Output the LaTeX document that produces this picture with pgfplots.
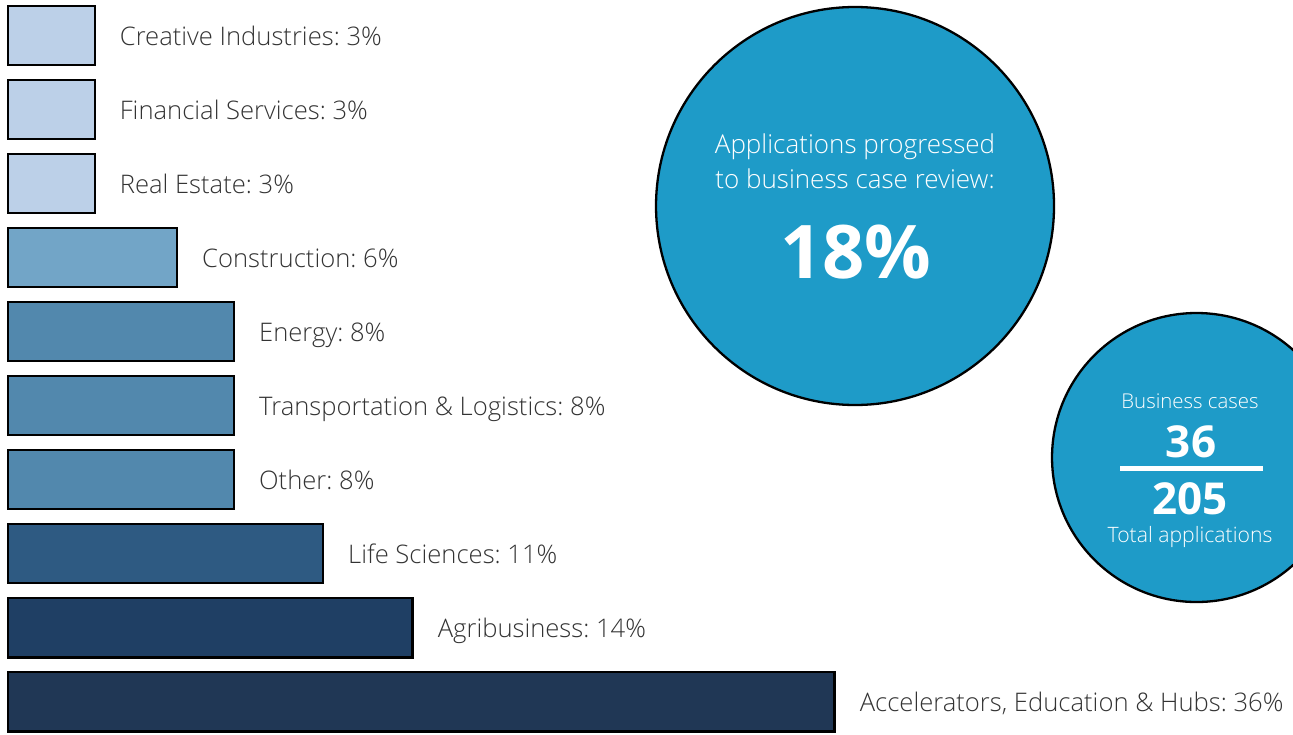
\documentclass[border=0pt]{standalone}
\usepackage{pgfplots}
\pgfplotsset{compat=1.18}
\usepackage{fontspec}
\setmainfont{Open Sans}[UprightFont=* Light, BoldFont=* Bold]
\frenchspacing
\definecolor{cLight}{HTML}{BCD0E8}
\definecolor{cCons}{HTML}{72A5C7}
\definecolor{cMid}{HTML}{5288AD}
\definecolor{cLife}{HTML}{2E5A82}
\definecolor{cAgri}{HTML}{1F3F64}
\definecolor{cAcc}{HTML}{203755}
\definecolor{circ}{HTML}{1E9BC8}
\definecolor{txt}{HTML}{333333}
\begin{document}
\begin{tikzpicture}
\begin{axis}[
  width=1293pt, height=734pt, scale only axis,
  xmin=-0.277, xmax=44.46,
  ymin=-0.482, ymax=9.436, y dir=reverse,
  axis lines=none, ticks=none,
  xbar, bar width=0.8, bar shift=0pt,
  clip=false,
  every node near coord/.append style={anchor=base west, inner sep=0pt, xshift=24pt, yshift=-9.5pt, font=\fontsize{25.6}{30}\selectfont, text=txt},
  every axis plot/.append style={draw=black, line width=2.3pt},
]
\addplot[fill=cLight, nodes near coords={Creative Industries: 3\%}] coordinates {(3,0)};
\addplot[fill=cLight, nodes near coords={Financial Services: 3\%}] coordinates {(3,1)};
\addplot[fill=cLight, nodes near coords={Real Estate: 3\%}] coordinates {(3,2)};
\addplot[fill=cCons, nodes near coords={Construction: 6\%}] coordinates {(5.85,3)};
\addplot[fill=cMid, nodes near coords={Energy: 8\%}] coordinates {(7.82,4)};
\addplot[fill=cMid, nodes near coords={Transportation \& Logistics: 8\%}] coordinates {(7.82,5)};
\addplot[fill=cMid, nodes near coords={Other: 8\%}] coordinates {(7.82,6)};
\addplot[fill=cLife, nodes near coords={Life Sciences: 11\%}] coordinates {(10.9,7)};
\addplot[fill=cAgri, nodes near coords={Agribusiness: 14\%}] coordinates {(14.0,8)};
\addplot[fill=cAcc, nodes near coords={Accelerators, Education \& Hubs: 36\%}] coordinates {(28.6,9)};
\end{axis}
\begin{scope}[shift={(current axis.north west)}, x=1pt, y=-1pt]
  \clip (0,0) rectangle (1293,734);
  \draw[fill=circ, line width=2.3pt] (855,206) circle[radius=199];
  \node[anchor=base, inner sep=0pt, text=white, font=\fontsize{26}{31}\selectfont] at (855,153) {Applications progressed};
  \node[anchor=base, inner sep=0pt, text=white, font=\fontsize{26}{31}\selectfont] at (855,188) {to business case review:};
  \node[anchor=base, inner sep=0pt, text=white, font=\fontsize{74}{84}\selectfont\bfseries] at (856,278) {18\%};
  \draw[fill=circ, line width=2.3pt] (1196.5,457.5) circle[radius=144.5];
  \node[anchor=base, inner sep=0pt, text=white, font=\fontsize{20.4}{24}\selectfont] at (1190,408) {Business cases};
  \node[anchor=base, inner sep=0pt, text=white, font=\fontsize{44}{50}\selectfont\bfseries] at (1191,457) {36};
  \draw[white, line width=5pt] (1120,468) -- (1263,468);
  \node[anchor=base, inner sep=0pt, text=white, font=\fontsize{44}{50}\selectfont\bfseries] at (1190,514) {205};
  \node[anchor=base, inner sep=0pt, text=white, font=\fontsize{21.2}{25}\selectfont] at (1190,542) {Total applications};
\end{scope}
\pgfresetboundingbox
\path (current axis.south west) rectangle (current axis.north east);
\end{tikzpicture}
\end{document}
